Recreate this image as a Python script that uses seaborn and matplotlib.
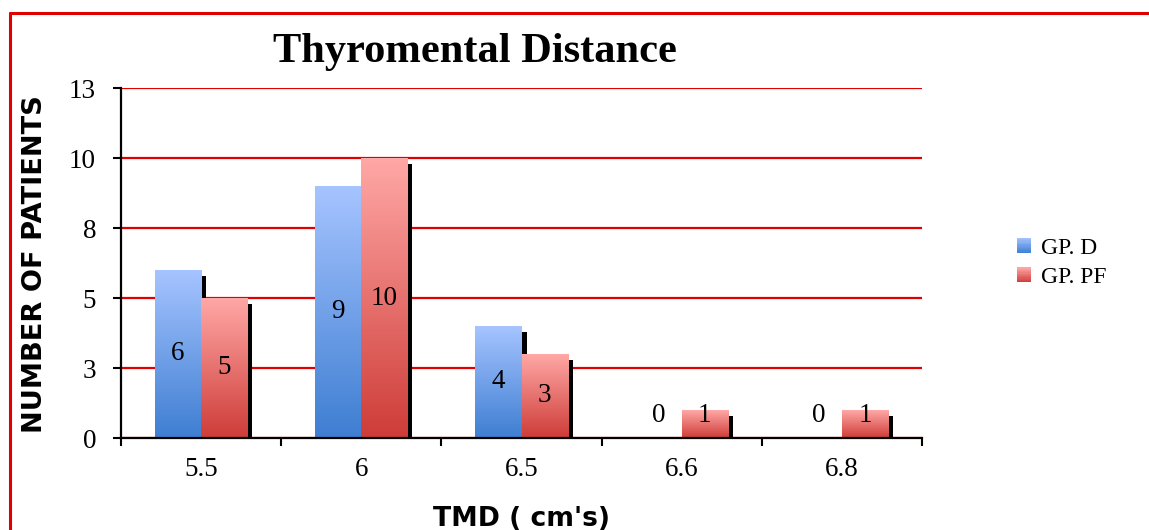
import numpy as np
import pandas as pd
import matplotlib
matplotlib.use("Agg")
import matplotlib.pyplot as plt
import seaborn as sns
from matplotlib.patches import Rectangle, Patch
from matplotlib.lines import Line2D
from matplotlib.colors import LinearSegmentedColormap
from matplotlib.legend_handler import HandlerBase

# ---- data ----
categories = ["5.5", "6", "6.5", "6.6", "6.8"]
gp_d = [6, 9, 4, 0, 0]
gp_pf = [5, 10, 3, 1, 1]
series_names = ["GP. D", "GP. PF"]
ytick_values = [0, 2.5, 5, 7.5, 10, 12.5]
ytick_labels = ["0", "3", "5", "8", "10", "13"]

df = pd.DataFrame({
    "tmd": categories * 2,
    "count": gp_d + gp_pf,
    "group": [series_names[0]] * len(categories) + [series_names[1]] * len(categories),
})

sns.set_theme(style="white")
plt.rcParams["font.family"] = ["Liberation Serif", "DejaVu Serif"]
plt.rcParams["text.color"] = "black"

W, H = 1149, 530
fig = plt.figure(figsize=(W / 100, H / 100), dpi=100)
ax = fig.add_axes([121 / W, 1 - 438 / H, (922 - 121) / W, (438 - 88) / H])

grad_top = {"GP. D": "#A6C4FF", "GP. PF": "#FFA8A6"}
grad_bot = {"GP. D": "#3E7ED2", "GP. PF": "#CE3C38"}
mid = {"GP. D": "#7AA3EA", "GP. PF": "#EA7472"}
cmaps = {g: LinearSegmentedColormap.from_list(g, [grad_bot[g], grad_top[g]])
         for g in series_names}

sns.barplot(data=df, x="tmd", y="count", hue="group", order=categories,
            hue_order=series_names, palette=mid, width=0.575, ax=ax,
            legend=False, saturation=1, zorder=3)

ax.set_xlim(-0.5, 4.5)
ax.set_ylim(0, 12.5)

# pixel -> data scale
px_x = 1.0 / 160.0
px_y = 12.5 / 350.0

patches = list(ax.patches)
n = len(categories)
for i, p in enumerate(patches):
    grp = series_names[i // n]
    x, w, h = p.get_x(), p.get_width(), p.get_height()
    if h <= 0:
        continue
    # shadow
    ax.add_patch(Rectangle((x + 5 * px_x, 0), w, max(h - 5.5 * px_y, 0),
                           facecolor="black", edgecolor="none", zorder=2))
    # gradient fill
    grad = np.linspace(0, 1, 256).reshape(-1, 1)
    im = ax.imshow(grad, extent=(x, x + w, 0, h), origin="lower", aspect="auto",
                   cmap=cmaps[grp], zorder=3.5)
    im.set_clip_path(p)
    p.set_edgecolor("none")

ax.set_xlim(-0.5, 4.5)
ax.set_ylim(0, 12.5)

# data labels
vals = gp_d + gp_pf
for i, p in enumerate(patches):
    v = vals[i]
    cx = p.get_x() + p.get_width() / 2
    cy = max(v / 2, 0.8)
    ax.text(cx, cy, f"{v}", ha="center", va="center", fontsize=19.5,
            color="black", zorder=5)

# axes styling
for s in ["top", "right"]:
    ax.spines[s].set_visible(False)
for s in ["left", "bottom"]:
    ax.spines[s].set_color("black")
    ax.spines[s].set_linewidth(1.6)
    ax.spines[s].set_zorder(6)

ax.set_yticks(ytick_values)
ax.set_yticklabels(ytick_labels)
ax.yaxis.grid(True, color="#E00000", linewidth=1.6, zorder=0)
ax.set_axisbelow(True)
ax.tick_params(axis="y", direction="out", length=6, width=1.5, color="black",
               left=True, pad=12, labelsize=19.5, labelcolor="black")

ax.set_xticks(range(n))
ax.set_xticklabels(categories)
ax.set_xticks(np.arange(-0.5, n, 1.0), minor=True)
ax.tick_params(axis="x", which="major", length=0, pad=14, labelsize=19.5,
               labelcolor="black")
ax.tick_params(axis="x", which="minor", direction="out", length=6, width=1.5,
               color="black", bottom=True)

ax.set_xlabel("TMD ( cm's)", fontsize=19.2, fontweight="bold",
              family="DejaVu Sans", color="black", va="center")
ax.xaxis.set_label_coords(0.5, (438 - 519) / 350)
ax.set_ylabel("NUMBER OF PATIENTS", fontsize=19.6, fontweight="bold",
              family="DejaVu Sans", color="black", va="center", ha="center")
ax.yaxis.set_label_coords((35 - 121) / 801, (438 - 264) / 350)

# title
fig.text(475 / W, 1 - 62 / H, "Thyromental Distance", ha="center", va="baseline",
         fontsize=30.6, fontweight="bold", family="Liberation Serif", color="black")


# legend with gradient swatches
class GradientHandler(HandlerBase):
    def __init__(self, cmap, steps=12):
        super().__init__()
        self.cmap = cmap
        self.steps = steps

    def create_artists(self, legend, orig_handle, xdescent, ydescent, width,
                       height, fontsize, trans):
        arts = []
        sh = height / self.steps
        for k in range(self.steps):
            c = self.cmap((k + 0.5) / self.steps)
            r = Rectangle((-xdescent, -ydescent + k * sh), width, sh * 1.05,
                          facecolor=c, edgecolor="none", transform=trans)
            arts.append(r)
        return arts


handles = [Patch(facecolor=mid[g], edgecolor="none") for g in series_names]
fig.legend(handles, series_names, loc="center left",
           bbox_to_anchor=(1017 / W, 1 - 263 / H), frameon=False,
           fontsize=17, handlelength=0.6, handleheight=0.6, handletextpad=0.4,
           labelspacing=0.36, borderaxespad=0, borderpad=0, labelcolor="black",
           handler_map={handles[0]: GradientHandler(cmaps[series_names[0]]),
                        handles[1]: GradientHandler(cmaps[series_names[1]])})

# red border (top and left)
fig.add_artist(Line2D([9.5 / W, 9.5 / W], [0, 1 - 13 / H], color="#E00000",
                      linewidth=2.2, transform=fig.transFigure))
fig.add_artist(Line2D([9.5 / W, 1], [1 - 13 / H, 1 - 13 / H], color="#E00000",
                      linewidth=2.2, transform=fig.transFigure))

fig.savefig("out.png", dpi=100, facecolor="white")
